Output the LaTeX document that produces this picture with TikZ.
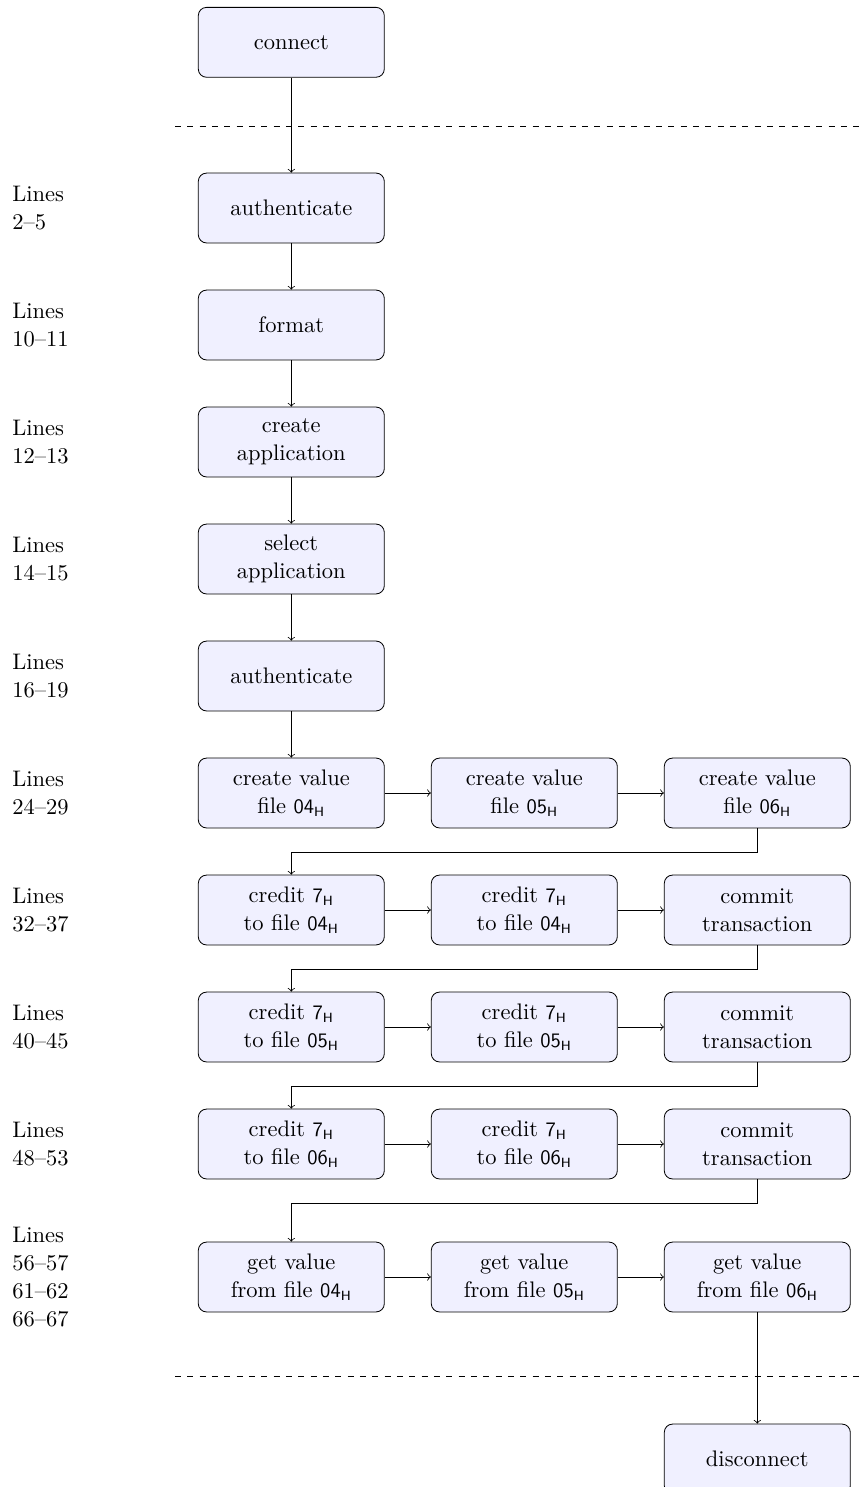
\documentclass[tikz,border=0pt]{standalone}
% hexadecimal file numbers: sans digits with a small sans "H" subscript
\newcommand{\hexnum}[1]{{\fontsize{10}{12}\sffamily #1}$_{\hbox{\fontsize{6.5}{7}\sffamily H}}$}
\begin{document}
\begin{tikzpicture}[x=0.4866pt,y=-0.4866pt,
  font=\fontsize{10.95}{13.6}\selectfont,
  stepbox/.style={draw=black, fill=blue!6, rounded corners=4pt,
    minimum width=90.5pt, minimum height=34pt, align=center, inner sep=2pt},
  linelabel/.style={anchor=west, align=left, inner sep=0pt},
  flow/.style={->, >=to},
  sep/.style={dashed}]
\useasboundingbox (0,0) rectangle (862,1487);

% separators between setup / teardown and the main sequence
\coordinate (s1a) at (175,126);
\coordinate (s1b) at (880,126);
\coordinate (s2a) at (175,1376);
\coordinate (s2b) at (880,1376);
\draw[sep] (s1a) -- (s1b);
\draw[sep] (s2a) -- (s2b);

% single-column steps
\node[stepbox] (con) at (291.3,42.3) {connect};
\node[stepbox] (au1) at (291.3,208) {authenticate};
\node[stepbox] (fmt) at (291.3,325) {format};
\node[stepbox] (cap) at (291.3,442) {create\\application};
\node[stepbox] (sap) at (291.3,559) {select\\application};
\node[stepbox] (au2) at (291.3,676) {authenticate};

% three-column steps
\node[stepbox] (v1) at (291.3,793) {create value\\file \hexnum{04}};
\node[stepbox] (v2) at (524.3,793) {create value\\file \hexnum{05}};
\node[stepbox] (v3) at (757.3,793) {create value\\file \hexnum{06}};

\node[stepbox] (a1) at (291.3,910) {credit \hexnum{7}\\to file \hexnum{04}};
\node[stepbox] (a2) at (524.3,910) {credit \hexnum{7}\\to file \hexnum{04}};
\node[stepbox] (a3) at (757.3,910) {commit\\transaction};

\node[stepbox] (b1) at (291.3,1027) {credit \hexnum{7}\\to file \hexnum{05}};
\node[stepbox] (b2) at (524.3,1027) {credit \hexnum{7}\\to file \hexnum{05}};
\node[stepbox] (b3) at (757.3,1027) {commit\\transaction};

\node[stepbox] (c1) at (291.3,1144) {credit \hexnum{7}\\to file \hexnum{06}};
\node[stepbox] (c2) at (524.3,1144) {credit \hexnum{7}\\to file \hexnum{06}};
\node[stepbox] (c3) at (757.3,1144) {commit\\transaction};

\node[stepbox] (g1) at (291.3,1277) {get value\\from file \hexnum{04}};
\node[stepbox] (g2) at (524.3,1277) {get value\\from file \hexnum{05}};
\node[stepbox] (g3) at (757.3,1277) {get value\\from file \hexnum{06}};

\node[stepbox] (dis) at (757.3,1459) {disconnect};

% source line references
\node[linelabel] (l1) at (12,208) {Lines\\2--5};
\node[linelabel] (l2) at (12,325) {Lines\\10--11};
\node[linelabel] (l3) at (12,442) {Lines\\12--13};
\node[linelabel] (l4) at (12,559) {Lines\\14--15};
\node[linelabel] (l5) at (12,676) {Lines\\16--19};
\node[linelabel] (l6) at (12,793) {Lines\\24--29};
\node[linelabel] (l7) at (12,910) {Lines\\32--37};
\node[linelabel] (l8) at (12,1027) {Lines\\40--45};
\node[linelabel] (l9) at (12,1144) {Lines\\48--53};
\node[linelabel] (l10) at (12,1277) {Lines\\56--57\\61--62\\66--67};

% vertical flow
\draw[flow] (con) -- (au1);
\draw[flow] (au1) -- (fmt);
\draw[flow] (fmt) -- (cap);
\draw[flow] (cap) -- (sap);
\draw[flow] (sap) -- (au2);
\draw[flow] (au2) -- (v1);

% rows and wrap-around connectors
\draw[flow] (v1) -- (v2);
\draw[flow] (v2) -- (v3);
\draw[flow] (v3.south) -- ++(0,24) -| (a1);
\draw[flow] (a1) -- (a2);
\draw[flow] (a2) -- (a3);
\draw[flow] (a3.south) -- ++(0,24) -| (b1);
\draw[flow] (b1) -- (b2);
\draw[flow] (b2) -- (b3);
\draw[flow] (b3.south) -- ++(0,24) -| (c1);
\draw[flow] (c1) -- (c2);
\draw[flow] (c2) -- (c3);
\draw[flow] (c3.south) -- ++(0,24) -| (g1);
\draw[flow] (g1) -- (g2);
\draw[flow] (g2) -- (g3);
\draw[flow] (g3) -- (dis);
\end{tikzpicture}
\end{document}
